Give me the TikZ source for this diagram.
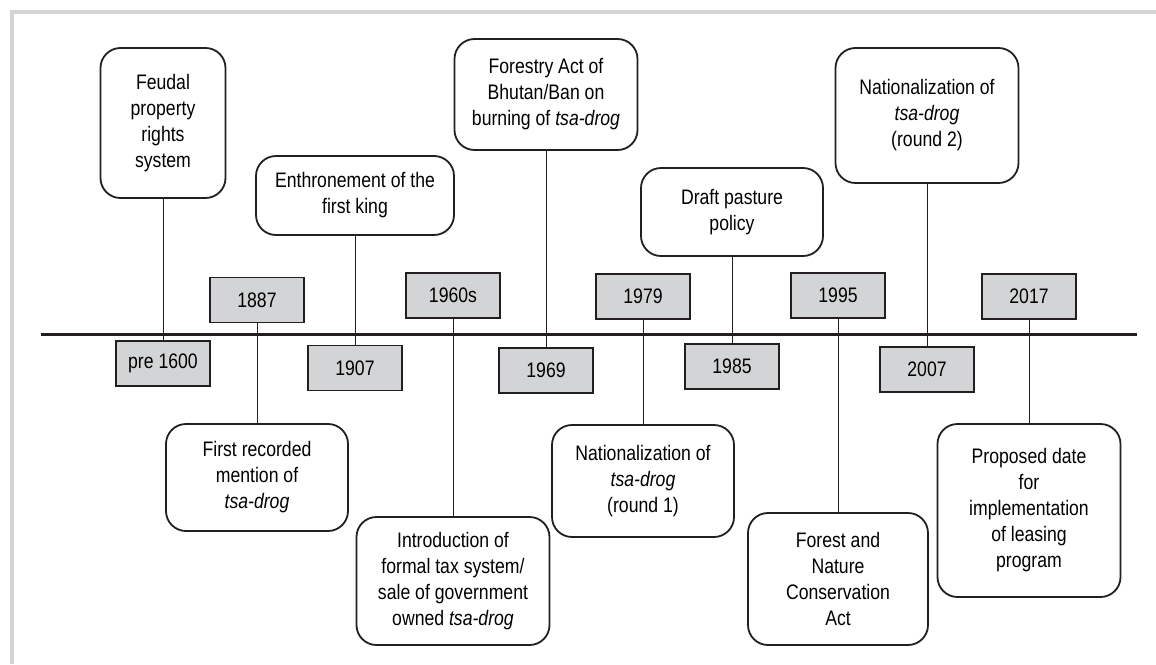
\documentclass[tikz,border=0pt]{standalone}
\usepackage{fontspec}
\setmainfont{Liberation Sans}[FakeStretch=0.84]
\usepackage{xcolor}
\definecolor{framegray}{HTML}{D4D4D4}
\definecolor{yeargray}{HTML}{D3D4D5}
\definecolor{ink}{HTML}{231F20}
\begin{document}
\begin{tikzpicture}[x=1pt,y=-1pt]
		\tikzstyle{every node}+=[inner sep=0pt,align=center,font=\fontsize{21}{26}\selectfont]
		\tikzstyle{yearbox}=[draw=ink,fill=yeargray,line width=1.5pt,minimum width=94pt,minimum height=45pt]
		\tikzstyle{eventbox}=[draw=ink,rounded corners=20pt,line width=1.8pt]
		\tikzstyle{stem}=[ink,line width=0.8pt]
		\useasboundingbox (0,0) rectangle (1156,664);
		\draw [framegray,line width=4pt] (12,664) -- (12,12) -- (1156,12);
		% year boxes
		\node [yearbox] (y1600) at (163,363.5) {pre 1600};
		\node [yearbox] (y1887) at (257,300) {1887};
		\node [yearbox] (y1907) at (355,368) {1907};
		\node [yearbox] (y1960) at (453,295.5) {1960s};
		\node [yearbox] (y1969) at (546,370.5) {1969};
		\node [yearbox] (y1979) at (643,296.5) {1979};
		\node [yearbox] (y1985) at (732,366.5) {1985};
		\node [yearbox] (y1995) at (838,295.5) {1995};
		\node [yearbox] (y2007) at (927,369.5) {2007};
		\node [yearbox] (y2017) at (1029,296.5) {2017};
		% events above the line
		\node [eventbox,minimum width=125pt,minimum height=150pt] (feudal) at (163,123) {Feudal\\property\\rights\\system};
		\node [eventbox,minimum width=198pt,minimum height=79pt] (king) at (355,195.5) {Enthronement of the\\first king};
		\node [eventbox,minimum width=183pt,minimum height=111pt] (forestry) at (546,94.5) {Forestry Act of\\Bhutan/Ban on\\burning of \textit{tsa-drog}};
		\node [eventbox,minimum width=182pt,minimum height=88pt] (draft) at (732,212) {Draft pasture\\policy};
		\node [eventbox,minimum width=183pt,minimum height=135pt] (natb) at (927,115.5) {Nationalization of\\\textit{tsa-drog}\\(round 2)};
		% events below the line
		\node [eventbox,minimum width=182pt,minimum height=107pt] (mention) at (257,477.5) {First recorded\\mention of\\\textit{tsa-drog}};
		\node [eventbox,minimum width=193pt,minimum height=128pt] (tax) at (453,581) {Introduction of\\formal tax system/\\sale of government\\owned \textit{tsa-drog}};
		\node [eventbox,minimum width=182pt,minimum height=112pt] (nata) at (643,481) {Nationalization of\\\textit{tsa-drog}\\(round 1)};
		\node [eventbox,minimum width=180pt,minimum height=132pt] (fnca) at (838,579) {Forest and\\Nature\\Conservation\\Act};
		\node [eventbox,minimum width=183pt,minimum height=173pt] (lease) at (1029,510.5) {Proposed date\\for\\implementation\\of leasing\\program};
		% stems
		\draw [stem] (feudal.south) -- (y1600.north);
		\draw [stem] (king.south) -- (y1907.north);
		\draw [stem] (forestry.south) -- (y1969.north);
		\draw [stem] (draft.south) -- (y1985.north);
		\draw [stem] (natb.south) -- (y2007.north);
		\draw [stem] (y1887.south) -- (mention.north);
		\draw [stem] (y1960.south) -- (tax.north);
		\draw [stem] (y1979.south) -- (nata.north);
		\draw [stem] (y1995.south) -- (fnca.north);
		\draw [stem] (y2017.south) -- (lease.north);
		% time line
		\coordinate (tstart) at (41,334);
		\coordinate (tend) at (1137,334);
		\draw [ink,line width=3pt] (tstart) -- (tend);
\end{tikzpicture}
\end{document}
